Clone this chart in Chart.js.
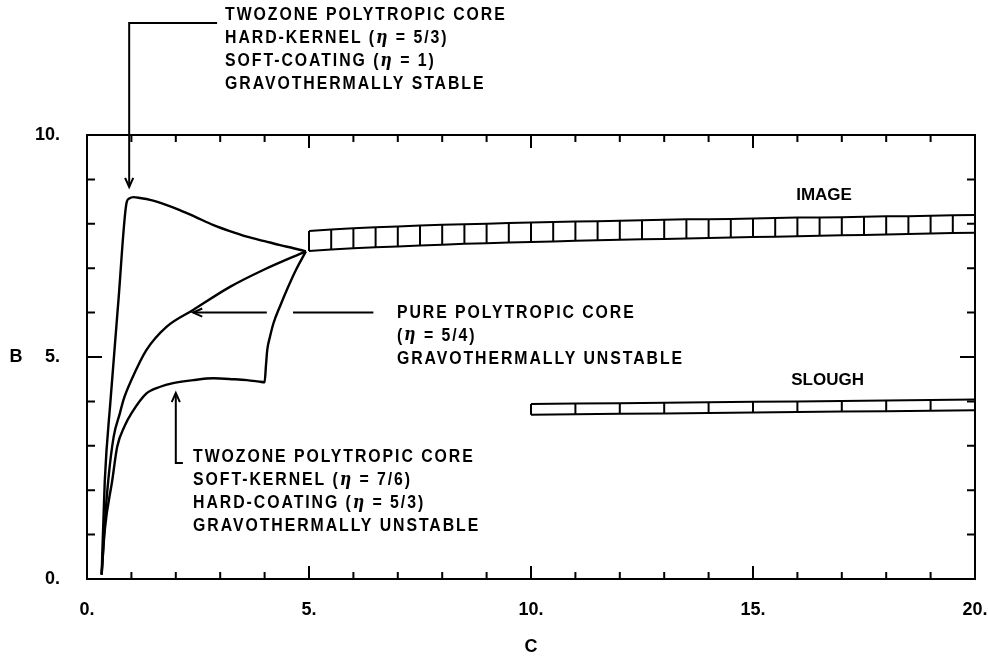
<!DOCTYPE html>
<html>
<head>
<meta charset="utf-8">
<script src="https://cdn.jsdelivr.net/npm/chart.js@4/dist/chart.umd.min.js"></script>
<style>
  html, body { margin: 0; padding: 0; background: #fff; }
  #wrap { width: 988px; height: 658px; }
</style>
</head>
<body>
<div id="wrap"><canvas id="chart" width="988" height="658"></canvas></div>
<script>
// Two-zone core, hard kernel (eta = 5/3) with soft coating (eta = 1): stable branch
const hardKernelC = [0.33, 0.40, 0.53, 0.71, 0.89, 0.95, 1.05, 1.20, 1.42, 1.75, 2.09, 2.45, 2.85, 3.20, 3.60, 4.00, 4.35, 4.65, 4.93];
const hardKernelB = [0.10, 2.20, 4.03, 6.30, 8.47, 8.57, 8.60, 8.58, 8.54, 8.44, 8.31, 8.15, 7.97, 7.84, 7.71, 7.61, 7.52, 7.45, 7.38];

// Pure polytropic core (eta = 5/4)
const pureC = [0.33, 0.39, 0.48, 0.60, 0.74, 0.82, 1.00, 1.34, 1.79, 2.39, 3.22, 3.97, 4.93];
const pureB = [0.10, 1.10, 2.23, 3.20, 3.73, 4.03, 4.48, 5.16, 5.68, 6.06, 6.58, 6.96, 7.38];

// Two-zone core, soft kernel (eta = 7/6) with hard coating (eta = 5/3)
const softKernelC = [0.33, 0.40, 0.57, 0.68, 0.85, 1.00, 1.34, 1.65, 1.94, 2.40, 2.85, 3.30, 3.60, 3.85, 4.00, 4.03, 4.06, 4.12, 4.20, 4.35, 4.50, 4.70, 4.93];
const softKernelB = [0.10, 1.10, 2.23, 2.98, 3.45, 3.73, 4.18, 4.33, 4.41, 4.48, 4.52, 4.50, 4.48, 4.45, 4.43, 4.80, 5.16, 5.45, 5.76, 6.15, 6.51, 6.95, 7.38];

// IMAGE band: cell edges along C with lower and upper B bounds
const imageC      = [5, 5.5, 6, 6.5, 7, 7.5, 8, 8.5, 9, 9.5, 10, 10.5, 11, 11.5, 12, 12.5, 13, 13.5, 14, 14.5, 15, 15.5, 16, 16.5, 17, 17.5, 18, 18.5, 19, 19.5, 20];
const imageTop    = [7.84, 7.87, 7.90, 7.92, 7.94, 7.96, 7.98, 7.99, 8.00, 8.02, 8.03, 8.04, 8.05, 8.06, 8.07, 8.08, 8.09, 8.10, 8.10, 8.11, 8.12, 8.13, 8.14, 8.14, 8.15, 8.16, 8.17, 8.17, 8.18, 8.19, 8.20];
const imageBottom = [7.39, 7.42, 7.45, 7.47, 7.49, 7.51, 7.53, 7.55, 7.56, 7.58, 7.59, 7.60, 7.62, 7.63, 7.64, 7.65, 7.66, 7.67, 7.68, 7.69, 7.70, 7.71, 7.72, 7.73, 7.74, 7.75, 7.76, 7.77, 7.78, 7.79, 7.80];

// SLOUGH band
const sloughC      = [10, 11, 12, 13, 14, 15, 16, 17, 18, 19, 20];
const sloughTop    = [3.94, 3.95, 3.96, 3.97, 3.98, 3.99, 4.00, 4.01, 4.02, 4.03, 4.04];
const sloughBottom = [3.70, 3.71, 3.72, 3.73, 3.74, 3.75, 3.76, 3.77, 3.78, 3.79, 3.80];

// Axis ticks: one per unit, labelled every five
const cTicks = [0, 5, 10, 15, 20];
const bTicks = [0, 5, 10];

const pairs = (xs, ys) => xs.map((x, i) => ({ x, y: ys[i] }));
const dividers = (xs, lo, hi) => {
  const pts = [];
  xs.forEach((x, i) => { pts.push({ x, y: lo[i] }, { x, y: hi[i] }, { x, y: null }); });
  return pts;
};

const curveStyle = { showLine: true, pointRadius: 0, borderColor: '#000', borderWidth: 2.4, fill: false, cubicInterpolationMode: 'monotone' };
const bandStyle  = { showLine: true, pointRadius: 0, borderColor: '#000', borderWidth: 2, fill: false, tension: 0, spanGaps: false };

const FAMILY     = '"Liberation Sans", Arial, sans-serif';
const ANNOT_FONT = 'bold 18px ' + FAMILY;
const ETA_FONT   = 'italic bold 18px "DejaVu Serif", serif';
const SQUEEZE    = 0.88;   // plotter lettering is narrow and widely tracked
const LINE_GAP   = 23;

// text blocks: anchor in data units, lines stacked downward
const notes = [
  { c: 3.11, b: 12.70, lines: ['TWOZONE POLYTROPIC CORE', 'HARD-KERNEL (η = 5/3)', 'SOFT-COATING (η = 1)', 'GRAVOTHERMALLY STABLE'] },
  { c: 6.98, b: 6.00,  lines: ['PURE POLYTROPIC CORE', '(η = 5/4)', 'GRAVOTHERMALLY UNSTABLE'] },
  { c: 2.39, b: 2.75,  lines: ['TWOZONE POLYTROPIC CORE', 'SOFT-KERNEL (η = 7/6)', 'HARD-COATING (η = 5/3)', 'GRAVOTHERMALLY UNSTABLE'] }
];
const bandLabels = [
  { c: 16.60, b: 8.65, text: 'IMAGE' },
  { c: 16.68, b: 4.48, text: 'SLOUGH' }
];
// leader polylines (data units); the last point carries an arrowhead
const leaders = [
  { path: [[2.93, 12.52], [0.95, 12.52], [0.95, 8.83]] },
  { path: [[4.05, 6.00], [2.39, 6.00]], extra: [[6.45, 6.00], [4.64, 6.00]] },
  { path: [[2.16, 2.61], [2.00, 2.61], [2.00, 4.19]] }
];

// draws one line of lettering, squeezed horizontally, with an italic eta
function drawRich(ctx, text, x, y) {
  ctx.save();
  ctx.translate(x, y);
  ctx.scale(SQUEEZE, 1);
  let cx = 0;
  text.split(/(η)/).forEach(p => {
    if (!p) return;
    ctx.font = p === 'η' ? ETA_FONT : ANNOT_FONT;
    ctx.fillText(p, cx, 0);
    cx += ctx.measureText(p).width;
  });
  ctx.restore();
}

function arrowHead(ctx, x0, y0, x1, y1) {
  const ang = Math.atan2(y1 - y0, x1 - x0);
  const len = 10, spread = 0.42;
  ctx.beginPath();
  ctx.moveTo(x1 - len * Math.cos(ang - spread), y1 - len * Math.sin(ang - spread));
  ctx.lineTo(x1, y1);
  ctx.lineTo(x1 - len * Math.cos(ang + spread), y1 - len * Math.sin(ang + spread));
  ctx.stroke();
}

const framePlugin = {
  id: 'frameAndNotes',
  afterDraw(chart) {
    const { ctx, chartArea: a, scales: { x, y } } = chart;
    ctx.save();
    ctx.strokeStyle = '#000';
    ctx.fillStyle = '#000';
    ctx.lineCap = 'butt';

    // frame
    ctx.lineWidth = 2;
    ctx.strokeRect(a.left, a.top, a.right - a.left, a.bottom - a.top);

    // inward ticks on all four sides
    x.ticks.forEach(t => {
      const px = x.getPixelForValue(t.value);
      const len = cTicks.includes(t.value) ? 13 : 7;
      ctx.beginPath();
      ctx.moveTo(px, a.bottom); ctx.lineTo(px, a.bottom - len);
      ctx.moveTo(px, a.top); ctx.lineTo(px, a.top + len);
      ctx.stroke();
    });
    y.ticks.forEach(t => {
      const py = y.getPixelForValue(t.value);
      const len = bTicks.includes(t.value) ? 15 : 8;
      ctx.beginPath();
      ctx.moveTo(a.left, py); ctx.lineTo(a.left + len, py);
      ctx.moveTo(a.right, py); ctx.lineTo(a.right - len, py);
      ctx.stroke();
    });

    // y-axis title, upright
    ctx.font = 'bold 18px ' + FAMILY;
    ctx.textAlign = 'center';
    ctx.textBaseline = 'middle';
    ctx.fillText('B', 16, y.getPixelForValue(5));

    // leader lines with arrowheads
    ctx.lineWidth = 2;
    leaders.forEach(l => {
      [l.path, l.extra].forEach(path => {
        if (!path) return;
        const pts = path.map(([c, b]) => [x.getPixelForValue(c), y.getPixelForValue(b)]);
        ctx.beginPath();
        pts.forEach(([px, py], i) => i ? ctx.lineTo(px, py) : ctx.moveTo(px, py));
        ctx.stroke();
      });
      const pts = l.path.map(([c, b]) => [x.getPixelForValue(c), y.getPixelForValue(b)]);
      const n = pts.length;
      arrowHead(ctx, pts[n - 2][0], pts[n - 2][1], pts[n - 1][0], pts[n - 1][1]);
    });

    // annotation text
    ctx.textAlign = 'left';
    ctx.textBaseline = 'middle';
    try { ctx.letterSpacing = '2.2px'; } catch (e) {}
    notes.forEach(n => {
      const px = x.getPixelForValue(n.c);
      const py = y.getPixelForValue(n.b);
      n.lines.forEach((s, i) => drawRich(ctx, s, px, py + i * LINE_GAP));
    });
    try { ctx.letterSpacing = '0px'; } catch (e) {}

    ctx.font = 'bold 17px ' + FAMILY;
    ctx.textAlign = 'center';
    bandLabels.forEach(l => ctx.fillText(l.text, x.getPixelForValue(l.c), y.getPixelForValue(l.b)));
    ctx.restore();
  }
};

const tickFont = { family: FAMILY, size: 18, weight: 'bold' };

new Chart(document.getElementById('chart'), {
  type: 'scatter',
  data: {
    datasets: [
      { ...curveStyle, data: pairs(hardKernelC, hardKernelB) },
      { ...curveStyle, data: pairs(pureC, pureB) },
      { ...curveStyle, data: pairs(softKernelC, softKernelB) },
      { ...bandStyle, data: pairs(imageC, imageTop) },
      { ...bandStyle, data: pairs(imageC, imageBottom) },
      { ...bandStyle, data: dividers(imageC, imageBottom, imageTop) },
      { ...bandStyle, data: pairs(sloughC, sloughTop) },
      { ...bandStyle, data: pairs(sloughC, sloughBottom) },
      { ...bandStyle, data: dividers(sloughC, sloughBottom, sloughTop) }
    ]
  },
  options: {
    responsive: false,
    animation: false,
    devicePixelRatio: 1,
    layout: { padding: { top: 135, right: 13, bottom: 0, left: 0 } },
    plugins: { legend: { display: false }, tooltip: { enabled: false } },
    scales: {
      x: {
        type: 'linear', min: 0, max: 20,
        grid: { display: false, drawTicks: false },
        border: { display: false },
        ticks: {
          stepSize: 1, autoSkip: false, maxRotation: 0, padding: 20,
          color: '#000', font: tickFont,
          callback: v => cTicks.includes(v) ? v + '.' : ''
        },
        title: { display: true, text: 'C', color: '#000', font: tickFont, padding: { top: 0, bottom: 0 } },
        afterFit: s => { s.height = 79; s.paddingLeft = 0; s.paddingRight = 0; }
      },
      y: {
        type: 'linear', min: 0, max: 10,
        grid: { display: false, drawTicks: false },
        border: { display: false },
        ticks: {
          stepSize: 1, autoSkip: false, padding: 27,
          color: '#000', font: tickFont,
          callback: v => bTicks.includes(v) ? v + '.' : ''
        },
        afterFit: s => { s.width = 87; s.paddingTop = 0; s.paddingBottom = 0; }
      }
    }
  },
  plugins: [framePlugin]
});
</script>
</body>
</html>
